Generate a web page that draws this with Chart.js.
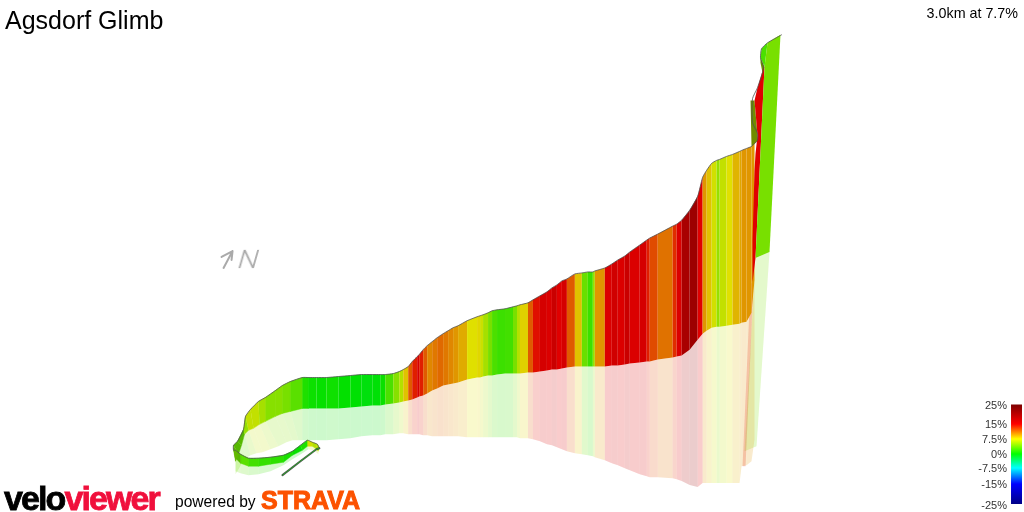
<!DOCTYPE html>
<html>
<head>
<meta charset="utf-8">
<title>Agsdorf Glimb</title>
<script src="https://cdn.jsdelivr.net/npm/chart.js@4"></script>
<style>
  html, body { margin: 0; background: #fff; overflow: hidden; }
  #wrap { position: relative; width: 1024px; height: 512px; font-family: "Liberation Sans", Arial, sans-serif; }
  #wrap div { position: absolute; white-space: nowrap; line-height: 1; }
  #title { left: 5px; top: 8px; font-size: 25px; color: #000; }
  #stat { right: 6px; top: 6px; font-size: 14.3px; color: #000; }
  #north { left: 236px; top: 248px; font-family: Roboto, sans-serif; font-weight: 300; font-size: 24px; color: #a8a8a8; transform-origin: left 20px; transform: skewX(-16deg) scaleX(1.2); }
  #velo { left: 4px; top: 481px; font-size: 34px; font-weight: bold; letter-spacing: -1.9px; -webkit-text-stroke: 0.8px currentColor; color: #000; }
  #velo span { color: #f0103c; }
  #powered { left: 175px; top: 494px; font-size: 15.6px; color: #000; }
  #strava { left: 261px; top: 488px; font-size: 25px; font-weight: bold; -webkit-text-stroke: 1px #fc5200; color: #fc5200; }
  .lbl { right: 17px; font-size: 11px; color: #333; }
  canvas { display: block; }
</style>
</head>
<body>
<div id="wrap">
  <canvas id="chart" width="1024" height="512"></canvas>
  <div id="title">Agsdorf Glimb</div>
  <div id="stat">3.0km at 7.7%</div>
  <div id="north">N</div>
  <div id="velo">velo<span>viewer</span></div>
  <div id="powered">powered by</div>
  <div id="strava">STRAVA</div>
</div>
<script>
// colour scale
const legendLabels = ['25%', '15%', '7.5%', '0%', '-7.5%', '-15%', '-25%'];
const legendGrades = [25, 15, 7.5, 0, -7.5, -15, -25];
const legendRgb = [[128, 0, 0], [255, 0, 0], [255, 255, 0], [0, 255, 0], [0, 255, 255], [0, 0, 255], [0, 0, 128]];
const legendY = [405, 424, 439, 454, 468, 484, 505];

// the curl at the start of the climb, top edge / wall foot / shadow foot
const curlTopX = [319, 317, 312, 307, 300, 292, 283, 270, 258, 248, 240, 235, 233, 233, 237, 243, 245, 250, 258, 265, 275, 282, 290, 302, 308];
const curlTopY = [449, 445, 443, 441, 446, 452, 456, 458, 459, 459, 455, 451, 451, 446, 442, 430, 417, 410, 402, 398, 391, 386, 382, 378, 378];
const curlLowX = [318, 315, 312, 307, 302, 292, 283, 270, 258, 248, 240, 235, 235, 238, 241, 244, 248, 253, 259, 265, 275, 282, 290, 302, 308];
const curlLowY = [452, 449, 447, 447, 451, 456, 463, 465, 467, 467, 464, 459, 462, 455, 446, 435, 431, 429, 425, 422, 417, 414, 412, 409, 409];
const curlBaseX = [318, 316, 313, 308, 302, 292, 283, 270, 258, 248, 240, 235, 235, 245, 247, 250, 256, 262, 270, 278, 286, 292, 298, 302, 308];
const curlBaseY = [455, 453, 451, 450, 454, 460, 466, 472, 475, 476, 474, 472, 475, 458, 458, 456, 454, 453, 450, 447, 443, 441, 441, 441, 441];
const curlGrade = [6, 6, 7, 1, 0.3, 0.8, 1.5, 1.8, 2.2, 3, 3.5, 4, 4, 3.5, 3.5, 5, 6.5, 6.5, 5.5, 4.5, 4.5, 4, 3, 1];

// the long wall, one entry per colour stripe
const wallX = [308, 316, 326, 338, 350, 361, 372, 380, 385, 393, 399, 403, 408, 412, 417, 419, 423, 427, 432, 437, 443, 448, 453, 458, 467, 477, 480, 483, 488, 492, 497, 505, 513, 517, 520, 528, 533, 540, 547, 552, 557, 562, 567, 575, 582, 588, 593, 595, 605, 612, 618, 625, 630, 640, 647, 650, 658, 673, 677, 682, 690, 698, 703, 707, 712, 717, 720, 727, 733, 740, 742, 747, 752, 755];
const wallTop = [378, 378, 378, 377, 376, 375, 375, 375, 375, 374, 372, 370, 367, 362, 357, 355, 350, 346, 342, 338, 334, 331, 328, 326, 321, 317, 316, 315, 313, 311, 310, 309, 307, 306, 305, 303, 300, 296, 292, 288, 285, 281, 279, 274, 273, 272, 272, 271, 268, 264, 260, 256, 252, 245, 240, 238, 234, 226, 224, 220, 210, 196, 177, 170, 163, 160, 159, 156, 154, 151, 150, 148, 146, 143];
const wallLow = [409, 409, 409, 409, 408, 407, 406, 406, 405, 404, 403, 402, 401, 400, 398, 397, 396, 394, 391, 389, 386, 385, 384, 383, 380, 378, 378, 377, 376, 376, 375, 374, 374, 374, 374, 373, 373, 372, 371, 370, 370, 369, 368, 367, 367, 367, 367, 367, 367, 366, 366, 365, 364, 363, 362, 362, 360, 358, 357, 356, 350, 340, 334, 331, 328, 327, 327, 326, 325, 324, 323, 322, 313, 280];
const wallBase = [441, 441, 441, 440, 439, 437, 436, 436, 435, 435, 434, 434, 435, 435, 435, 435, 436, 436, 437, 437, 437, 437, 437, 437, 438, 438, 438, 438, 438, 438, 438, 438, 438, 438, 439, 439, 440, 442, 445, 446, 448, 450, 452, 454, 455, 456, 457, 458, 461, 464, 466, 469, 471, 475, 477, 478, 478, 479, 480, 482, 486, 488, 484, 484, 484, 484, 484, 484, 484, 484, 467, 466, 462, 440];
const wallGrade = [0.4, 0.2, 0.5, 0.1, -0.1, -0.4, -0.2, 0.3, 2.5, 4.5, 6, 8.5, 12, 14, 16, 14, 12, 10.5, 11, 11.5, 11, 10.5, 10, 9.3, 7.5, 7.8, 6.8, 5.5, 4, 2.5, 2, 2.2, 4, 6, 8, 12, 14.5, 16, 15.5, 17, 15, 16, 12, 8.5, 3.5, 2, 5, 10, 15.5, 16.5, 15.5, 17, 15.5, 16, 14, 12.5, 11.2, 13.5, 15.5, 20, 21, 15, 10, 8.5, 7, 5, 6.5, 7.5, 9, 9.5, 10, 10, 10];

// last steep pitches at the top of the climb
const foldX = [764, 765, 756, 753, 753, 755, 756, 758, 755, 758];
const foldY = [67, 66, 258, 282, 240, 170, 153, 135, 100, 87];
const foldGrade = 15;
const foldShadeX = [751, 754, 746, 743];
const foldShadeY = [284, 282, 467, 467];
const backX = [751, 755, 758, 758, 752];
const backY = [100, 100, 135, 140, 147];
const backTipX = [761, 765, 763, 761];
const backTipY = [57, 66, 72, 62];
const backGrade = 6;
const topWedgeX = [762, 768, 765, 761];
const topWedgeY = [48, 42, 66, 57];
const topWedgeGrade = 2.5;
const sideX = [765, 768, 781, 770, 756];
const sideY = [66, 42, 34, 252, 258];
const sideShadeX = [756, 770, 757, 745];
const sideShadeY = [258, 252, 447, 452];
const sideGrade = 4;
const ridgeX = [758, 758, 753, 753, 758, 764, 761, 762, 768, 782];
const ridgeY = [140, 133, 122, 98, 87, 67, 57, 48, 42, 34];

// road start, a thin strip seen edge on
const startX = [282, 300, 316, 319];
const startY = [476, 462, 450, 449];

const arrowX = [223, 232, 221, 232, 231];
const arrowY = [268, 251, 257, 251, 260];

function toPoints(xs, ys) { return xs.map((x, i) => ({x: x, y: ys[i]})); }

function gradeRgb(g) {
    for (let i = 0; i < legendGrades.length - 1; i++) {
        if (g <= legendGrades[i] && g >= legendGrades[i + 1]) {
            let t = (legendGrades[i] - g) / (legendGrades[i] - legendGrades[i + 1]);
            return legendRgb[i].map((c, k) => c + (legendRgb[i + 1][k] - c) * t);
        }
    }
    return legendRgb[0];
}
function gradeColor(g, dim, alpha) {
    let c = gradeRgb(g).map(v => Math.round(v * dim));
    return 'rgba(' + c[0] + ',' + c[1] + ',' + c[2] + ',' + alpha + ')';
}

function polygon(points, color, edge) {
    return {
        type: 'line',
        data: points,
        fill: 'shape',
        backgroundColor: color,
        borderColor: color,
        borderWidth: edge || 0,
        pointRadius: 0,
        tension: 0
    };
}
function polyline(points, color, width, tension) {
    return {
        type: 'line',
        data: points,
        fill: false,
        borderColor: color,
        borderWidth: width,
        pointRadius: 0,
        tension: tension || 0,
        borderCapStyle: 'round',
        borderJoinStyle: 'round'
    };
}

const WALL_DIM = 0.88;
const SHADE_ALPHA = 0.2;
let layers = [];

// shadows go down first
layers.push(polygon(toPoints(sideShadeX, sideShadeY), gradeColor(sideGrade, WALL_DIM, SHADE_ALPHA)));
layers.push(polygon(toPoints(foldShadeX, foldShadeY), gradeColor(foldGrade, WALL_DIM, SHADE_ALPHA)));
curlGrade.forEach((g, i) => {
    layers.push(polygon([
        {x: curlLowX[i], y: curlLowY[i]}, {x: curlLowX[i + 1], y: curlLowY[i + 1]},
        {x: curlBaseX[i + 1], y: curlBaseY[i + 1]}, {x: curlBaseX[i], y: curlBaseY[i]}
    ], gradeColor(g, WALL_DIM, SHADE_ALPHA)));
});
wallGrade.forEach((g, i) => {
    layers.push(polygon([
        {x: wallX[i], y: wallLow[i]}, {x: wallX[i + 1], y: wallLow[i + 1]},
        {x: wallX[i + 1], y: wallBase[i + 1]}, {x: wallX[i], y: wallBase[i]}
    ], gradeColor(g, WALL_DIM, SHADE_ALPHA)));
});

// then the coloured road wall
layers.push(polygon(toPoints(backX, backY), gradeColor(backGrade, 0.55, 1)));
layers.push(polygon(toPoints(backTipX, backTipY), gradeColor(backGrade, 0.55, 1)));
curlGrade.forEach((g, i) => {
    let color = gradeColor(g, i > 9 && i < 15 ? 0.72 : WALL_DIM, 1);
    layers.push(polygon([
        {x: curlTopX[i], y: curlTopY[i]}, {x: curlTopX[i + 1], y: curlTopY[i + 1]},
        {x: curlLowX[i + 1], y: curlLowY[i + 1]}, {x: curlLowX[i], y: curlLowY[i]}
    ], color, 0.5));
});
wallGrade.forEach((g, i) => {
    layers.push(polygon([
        {x: wallX[i], y: wallTop[i]}, {x: wallX[i + 1], y: wallTop[i + 1]},
        {x: wallX[i + 1], y: wallLow[i + 1]}, {x: wallX[i], y: wallLow[i]}
    ], gradeColor(g, WALL_DIM, 1)));
});
layers.push(polygon(toPoints(foldX, foldY), gradeColor(foldGrade, WALL_DIM, 1)));
layers.push(polygon(toPoints(topWedgeX, topWedgeY), gradeColor(topWedgeGrade, WALL_DIM, 1)));
layers.push(polygon(toPoints(sideX, sideY), gradeColor(sideGrade, WALL_DIM, 1)));

// dark line along the top of the road
layers.push(polyline(toPoints(curlTopX.concat(wallX, ridgeX), curlTopY.concat(wallTop, ridgeY)), 'rgba(80,80,80,0.8)', 1, 0.2));
layers.push(polyline(toPoints(startX, startY), 'rgba(60,60,60,0.9)', 2));
layers.push(polyline(toPoints(startX, startY), '#20c020', 0.8));
layers.push(polyline(toPoints(arrowX, arrowY), '#aaa', 2));

// colour key, gets its gradient once the scales exist
const keyLeft = 1012, keyRight = 1023;
let keyBox = polygon([
    {x: keyLeft, y: legendY[0]}, {x: keyRight, y: legendY[0]},
    {x: keyRight, y: legendY[6]}, {x: keyLeft, y: legendY[6]}
], '#888');
layers.push(keyBox);

// first dataset is painted last, so flip the painter's order
let chart = new Chart(document.getElementById('chart').getContext('2d'), {
    type: 'line',
    data: {datasets: layers.reverse()},
    options: {
        responsive: false,
        animation: false,
        layout: {padding: 0},
        plugins: {legend: {display: false}, tooltip: {enabled: false}, title: {display: false}},
        scales: {
            x: {type: 'linear', min: 0, max: 1024, display: false},
            y: {type: 'linear', min: 0, max: 512, reverse: true, display: false}
        }
    }
});

let top0 = chart.scales.y.getPixelForValue(legendY[0]);
let bottom0 = chart.scales.y.getPixelForValue(legendY[6]);
let keyGrad = chart.ctx.createLinearGradient(0, top0, 0, bottom0);
legendY.forEach((y, i) => {
    let c = legendRgb[i];
    keyGrad.addColorStop((y - legendY[0]) / (legendY[6] - legendY[0]), 'rgb(' + c[0] + ',' + c[1] + ',' + c[2] + ')');
});
keyBox.backgroundColor = keyGrad;
keyBox.borderColor = keyGrad;
chart.update();

let wrap = document.getElementById('wrap');
legendLabels.forEach((text, i) => {
    let el = document.createElement('div');
    el.className = 'lbl';
    el.textContent = text;
    el.style.top = (legendY[i] - 5) + 'px';
    wrap.appendChild(el);
});
</script>
</body>
</html>
